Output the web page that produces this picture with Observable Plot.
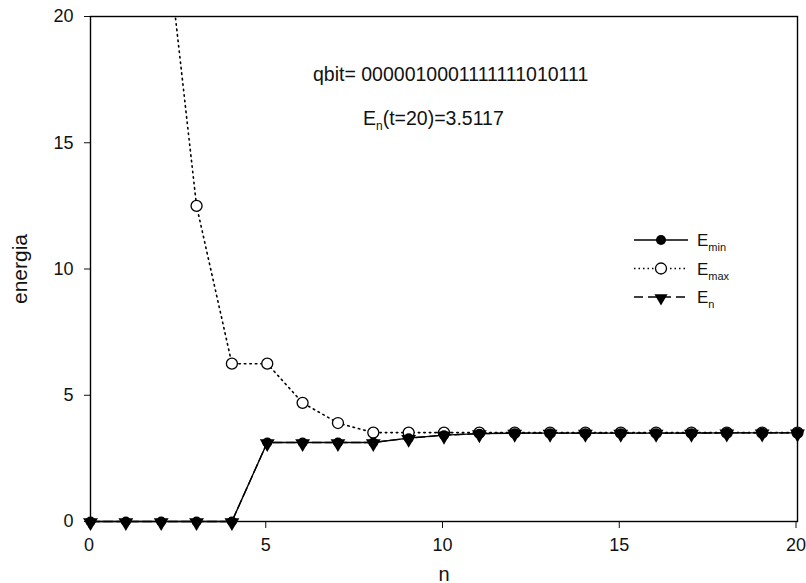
<!DOCTYPE html>
<html>
<head>
<meta charset="utf-8">
<script src="https://cdn.jsdelivr.net/npm/d3@7"></script>
<script src="https://cdn.jsdelivr.net/npm/@observablehq/plot@0.6"></script>
<style>
  html, body { margin: 0; padding: 0; background: #fff; }
  #chart { width: 806px; height: 583px; overflow: hidden; }
</style>
</head>
<body>
<div id="chart"></div>
<script>
// ---- data ----
const nValues = [0, 1, 2, 3, 4, 5, 6, 7, 8, 9, 10, 11, 12, 13, 14, 15, 16, 17, 18, 19, 20];
const eMin    = [0, 0, 0, 0, 0, 3.13, 3.13, 3.13, 3.13, 3.30, 3.42, 3.48, 3.50, 3.50, 3.50, 3.50, 3.50, 3.50, 3.51, 3.51, 3.51];
const eMax    = [100, 50, 25, 12.5, 6.25, 6.25, 4.70, 3.90, 3.52, 3.52, 3.52, 3.52, 3.52, 3.52, 3.52, 3.52, 3.52, 3.52, 3.52, 3.52, 3.52];
const eN      = [0, 0, 0, 0, 0, 3.13, 3.13, 3.13, 3.13, 3.30, 3.42, 3.48, 3.50, 3.50, 3.50, 3.50, 3.50, 3.50, 3.51, 3.51, 3.5117];
const xTicks  = [0, 5, 10, 15, 20];
const yTicks  = [0, 5, 10, 15, 20];
const qbitLabel = "qbit= 0000010001111111010111";
const enValueLabel = "(t=20)=3.5117";

const rows = nValues.map((n, i) => ({ n, emin: eMin[i], emax: eMax[i], en: eN[i] }));
const visibleMax = rows.filter(d => d.emax <= 20);

const plot = Plot.plot({
  width: 806,
  height: 583,
  marginLeft: 90,
  marginRight: 9,
  marginTop: 16,
  marginBottom: 62,
  style: { fontFamily: "'Liberation Sans', Arial, sans-serif", fontSize: "18px", color: "#111", background: "#fff" },
  x: { domain: [0, 20] },
  y: { domain: [0, 20] },
  marks: [
    Plot.axisX({ ticks: xTicks, tickSize: 7, tickPadding: 10, label: null, fontSize: 18, textAnchor: "middle", dx: -1.5 }),
    Plot.axisX({ ticks: [], label: "n", labelAnchor: "center", labelArrow: "none", labelOffset: 59, fontSize: 20 }),
    Plot.axisY({ ticks: yTicks, tickSize: 6, tickPadding: 11, label: null, fontSize: 18 }),
    Plot.axisY({ ticks: [], label: "energia", labelAnchor: "center", labelArrow: "none", labelOffset: 78, fontSize: 21 }),
    Plot.frame({ stroke: "#000", strokeWidth: 1.4 }),
    Plot.line(rows, { x: "n", y: "emax", stroke: "#000", strokeWidth: 1.6, strokeDasharray: "1.5,4", clip: true }),
    Plot.line(rows, { x: "n", y: "en", stroke: "#000", strokeWidth: 1.4, strokeDasharray: "9,4" }),
    Plot.line(rows, { x: "n", y: "emin", stroke: "#000", strokeWidth: 1.4 }),
    Plot.dot(visibleMax, { x: "n", y: "emax", r: 5.5, fill: "#fff", stroke: "#000", strokeWidth: 1.3 }),
    Plot.dot(rows, { x: "n", y: "emin", r: 5, fill: "#000" }),
    Plot.dot(rows, { x: "n", y: "en", symbol: "triangle", rotate: 180, r: 5.5, fill: "#000", dy: 1 })
  ]
});

document.getElementById("chart").appendChild(plot);

// ---- annotations and legend ----
const svg = d3.select(plot);
const fam = "'Liberation Sans', Arial, sans-serif";

svg.append("text")
  .attr("x", 313).attr("y", 81).attr("text-anchor", "start")
  .attr("font-family", fam).attr("font-size", 19.5).attr("fill", "#111")
  .text(qbitLabel);

const enText = svg.append("text")
  .attr("x", 363).attr("y", 125).attr("text-anchor", "start")
  .attr("font-family", fam).attr("font-size", 19.5).attr("fill", "#111");
enText.append("tspan").text("E");
enText.append("tspan").attr("dy", 5).attr("font-size", 12).text("n");
enText.append("tspan").attr("dy", -5).text(enValueLabel);

const legendItems = [
  { sub: "min", kind: "min", dash: null },
  { sub: "max", kind: "max", dash: "1.5,3" },
  { sub: "n", kind: "n", dash: "9,5" }
];
const lg = svg.append("g").attr("transform", "translate(634,240)");
legendItems.forEach((it, i) => {
  const g = lg.append("g").attr("transform", `translate(0,${i * 28.5})`);
  g.append("line").attr("x1", 0).attr("x2", 54).attr("y1", 0).attr("y2", 0)
    .attr("stroke", "#000").attr("stroke-width", it.kind === "max" ? 1.6 : 1.4)
    .attr("stroke-dasharray", it.dash);
  if (it.kind === "min") {
    g.append("circle").attr("cx", 27).attr("cy", 0).attr("r", 5).attr("fill", "#000");
  } else if (it.kind === "max") {
    g.append("circle").attr("cx", 27).attr("cy", 0).attr("r", 5.5).attr("fill", "#fff").attr("stroke", "#000").attr("stroke-width", 1.3);
  } else {
    g.append("path").attr("d", d3.symbol(d3.symbolTriangle, 75)()).attr("transform", "translate(27,1) rotate(180)").attr("fill", "#000");
  }
  const t = g.append("text").attr("x", 63).attr("y", 6).attr("text-anchor", "start")
    .attr("font-family", fam).attr("font-size", 17).attr("fill", "#111");
  t.append("tspan").text("E");
  t.append("tspan").attr("dy", 5).attr("font-size", 11).text(it.sub);
});
</script>
</body>
</html>
